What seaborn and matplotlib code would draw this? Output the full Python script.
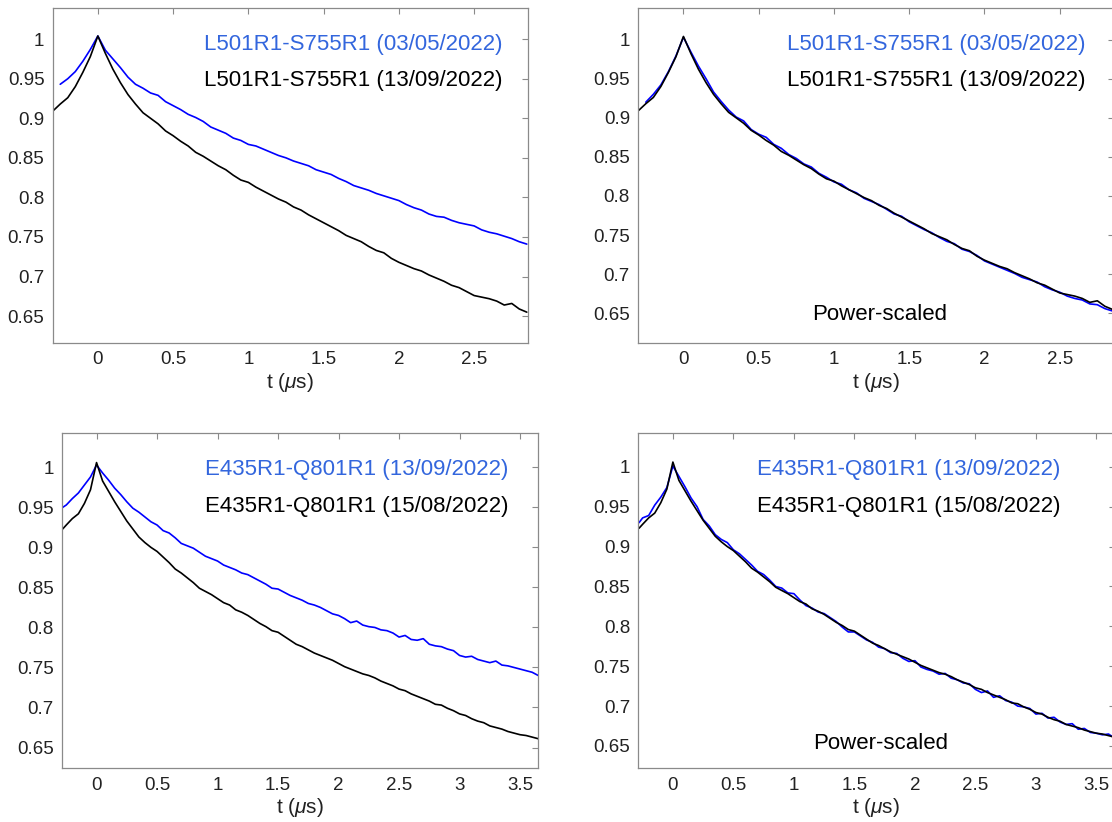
import numpy as np
import matplotlib
matplotlib.use("Agg")
import matplotlib.pyplot as plt
from matplotlib.ticker import FuncFormatter
import seaborn as sns

nan = np.nan

# time grids (us)
t_top = [-0.30, -0.25, -0.20, -0.15, -0.10, -0.05, 0.00, 0.05, 0.10, 0.15, 0.20, 0.25, 0.30, 0.35, 0.40, 0.45,
         0.50, 0.55, 0.60, 0.65, 0.70, 0.75, 0.80, 0.85, 0.90, 0.95, 1.00, 1.05, 1.10, 1.15, 1.20, 1.25,
         1.30, 1.35, 1.40, 1.45, 1.50, 1.55, 1.60, 1.65, 1.70, 1.75, 1.80, 1.85, 1.90, 1.95, 2.00, 2.05,
         2.10, 2.15, 2.20, 2.25, 2.30, 2.35, 2.40, 2.45, 2.50, 2.55, 2.60, 2.65, 2.70, 2.75, 2.80, 2.85]

t_bot = [-0.28, -0.25, -0.20, -0.15, -0.10, -0.05, 0.00, 0.05, 0.10, 0.15, 0.20, 0.25, 0.30, 0.35, 0.40, 0.45,
         0.50, 0.55, 0.60, 0.65, 0.70, 0.75, 0.80, 0.85, 0.90, 0.95, 1.00, 1.05, 1.10, 1.15, 1.20, 1.25,
         1.30, 1.35, 1.40, 1.45, 1.50, 1.55, 1.60, 1.65, 1.70, 1.75, 1.80, 1.85, 1.90, 1.95, 2.00, 2.05,
         2.10, 2.15, 2.20, 2.25, 2.30, 2.35, 2.40, 2.45, 2.50, 2.55, 2.60, 2.65, 2.70, 2.75, 2.80, 2.85,
         2.90, 2.95, 3.00, 3.05, 3.10, 3.15, 3.20, 3.25, 3.30, 3.35, 3.40, 3.45, 3.50, 3.55, 3.60, 3.65]

# L501R1-S755R1 (03/05/2022), raw
l501_0305 = [nan, 0.943, 0.950, 0.959, 0.972, 0.987, 1.004, 0.986, 0.975, 0.964, 0.952, 0.943, 0.938, 0.932, 0.929, 0.921,
             0.916, 0.911, 0.905, 0.901, 0.896, 0.889, 0.885, 0.881, 0.875, 0.872, 0.867, 0.865, 0.861, 0.857, 0.853, 0.850,
             0.846, 0.843, 0.840, 0.835, 0.832, 0.829, 0.824, 0.820, 0.815, 0.812, 0.809, 0.805, 0.802, 0.799, 0.796, 0.791,
             0.787, 0.784, 0.779, 0.776, 0.775, 0.771, 0.768, 0.766, 0.764, 0.759, 0.756, 0.754, 0.751, 0.748, 0.744, 0.741]

# L501R1-S755R1 (13/09/2022)
l501_1309 = [0.909, 0.918, 0.926, 0.940, 0.958, 0.978, 1.004, 0.982, 0.962, 0.945, 0.930, 0.918, 0.907, 0.900, 0.893, 0.884,
             0.878, 0.871, 0.865, 0.857, 0.852, 0.846, 0.840, 0.835, 0.828, 0.822, 0.819, 0.813, 0.808, 0.803, 0.798, 0.794,
             0.788, 0.784, 0.778, 0.773, 0.768, 0.763, 0.758, 0.752, 0.748, 0.744, 0.738, 0.733, 0.730, 0.723, 0.718, 0.714,
             0.710, 0.707, 0.702, 0.698, 0.694, 0.689, 0.686, 0.681, 0.676, 0.674, 0.672, 0.669, 0.664, 0.666, 0.659, 0.655]

# L501R1-S755R1 (03/05/2022), power-scaled
l501_0305_ps = [nan, 0.920, 0.930, 0.942, 0.959, 0.979, 1.003, 0.984, 0.966, 0.950, 0.933, 0.921, 0.910, 0.901, 0.896, 0.885,
                0.879, 0.875, 0.866, 0.861, 0.853, 0.848, 0.841, 0.837, 0.829, 0.824, 0.818, 0.815, 0.808, 0.804, 0.797, 0.793,
                0.789, 0.783, 0.777, 0.774, 0.767, 0.762, 0.757, 0.753, 0.747, 0.742, 0.739, 0.732, 0.729, 0.724, 0.717, 0.713,
                0.709, 0.705, 0.701, 0.696, 0.693, 0.690, 0.684, 0.680, 0.677, 0.672, 0.669, 0.667, 0.662, 0.661, 0.656, 0.653]

# E435R1-Q801R1 (13/09/2022), raw
e435_1309 = [0.950, 0.953, 0.961, 0.968, 0.978, 0.988, 1.003, 0.993, 0.984, 0.974, 0.966, 0.957, 0.949, 0.944, 0.938, 0.932,
             0.928, 0.921, 0.918, 0.912, 0.905, 0.902, 0.899, 0.894, 0.889, 0.886, 0.883, 0.878, 0.875, 0.872, 0.868, 0.866,
             0.862, 0.858, 0.854, 0.849, 0.848, 0.844, 0.840, 0.837, 0.834, 0.830, 0.828, 0.825, 0.821, 0.817, 0.815, 0.811,
             0.806, 0.808, 0.803, 0.801, 0.800, 0.797, 0.796, 0.793, 0.788, 0.790, 0.785, 0.784, 0.786, 0.779, 0.777, 0.776,
             0.773, 0.771, 0.765, 0.763, 0.764, 0.760, 0.758, 0.756, 0.758, 0.753, 0.752, 0.750, 0.748, 0.746, 0.744, 0.740]

# E435R1-Q801R1 (15/08/2022)
e435_1508 = [0.923, 0.928, 0.936, 0.942, 0.955, 0.972, 1.006, 0.983, 0.970, 0.957, 0.945, 0.933, 0.923, 0.913, 0.906, 0.900,
             0.895, 0.888, 0.881, 0.873, 0.868, 0.862, 0.856, 0.849, 0.845, 0.841, 0.836, 0.831, 0.828, 0.822, 0.819, 0.815,
             0.810, 0.805, 0.801, 0.796, 0.794, 0.789, 0.784, 0.779, 0.776, 0.772, 0.768, 0.765, 0.762, 0.759, 0.755, 0.751,
             0.748, 0.745, 0.742, 0.740, 0.737, 0.733, 0.730, 0.727, 0.723, 0.721, 0.717, 0.714, 0.711, 0.708, 0.704, 0.703,
             0.699, 0.696, 0.692, 0.690, 0.686, 0.683, 0.681, 0.677, 0.675, 0.673, 0.670, 0.668, 0.666, 0.665, 0.663, 0.661]

# E435R1-Q801R1 (13/09/2022), power-scaled
e435_1309_ps = [0.930, 0.936, 0.939, 0.952, 0.962, 0.974, 1.001, 0.988, 0.975, 0.961, 0.950, 0.934, 0.926, 0.915, 0.909, 0.905,
                0.896, 0.891, 0.884, 0.877, 0.869, 0.865, 0.858, 0.850, 0.848, 0.842, 0.841, 0.833, 0.826, 0.823, 0.818, 0.816,
                0.811, 0.806, 0.799, 0.793, 0.793, 0.788, 0.783, 0.780, 0.774, 0.772, 0.767, 0.766, 0.760, 0.756, 0.757, 0.749,
                0.746, 0.744, 0.740, 0.741, 0.735, 0.733, 0.729, 0.728, 0.721, 0.717, 0.719, 0.711, 0.713, 0.707, 0.705, 0.700,
                0.699, 0.697, 0.690, 0.691, 0.685, 0.686, 0.680, 0.677, 0.678, 0.671, 0.672, 0.667, 0.666, 0.664, 0.665, 0.660]

labels_top = ["L501R1-S755R1 (03/05/2022)", "L501R1-S755R1 (13/09/2022)"]
labels_bot = ["E435R1-Q801R1 (13/09/2022)", "E435R1-Q801R1 (15/08/2022)"]

sns.set_style("white")
plt.rcParams["font.family"] = ["Liberation Sans", "DejaVu Sans"]
plt.rcParams["mathtext.fontset"] = "custom"
plt.rcParams["mathtext.rm"] = "Liberation Sans"
plt.rcParams["mathtext.it"] = "Liberation Sans:italic"

line_blue = "#0000ff"
text_blue = "#3366dd"
axis_gray = "#8a8a8a"

fig = plt.figure(figsize=(11.12, 8.22), dpi=100)

panels = [
    dict(rect=[0.0474, 0.5827, 0.4277, 0.4072], t=t_top, blue=l501_0305, black=l501_1309, labels=labels_top,
         xlim=(-0.30, 2.86), ylim=(0.616, 1.039), xt=[0, 0.5, 1, 1.5, 2, 2.5], lx=0.318, ps=None),
    dict(rect=[0.5740, 0.5827, 0.4277, 0.4072], t=t_top, blue=l501_0305_ps, black=l501_1309, labels=labels_top,
         xlim=(-0.30, 2.86), ylim=(0.612, 1.040), xt=[0, 0.5, 1, 1.5, 2, 2.5], lx=0.3125, ps=0.084),
    dict(rect=[0.0558, 0.0653, 0.4282, 0.4075], t=t_bot, blue=e435_1309, black=e435_1508, labels=labels_bot,
         xlim=(-0.285, 3.65), ylim=(0.624, 1.0425), xt=[0, 0.5, 1, 1.5, 2, 2.5, 3, 3.5], lx=0.300, ps=None),
    dict(rect=[0.5741, 0.0653, 0.4282, 0.4075], t=t_bot, blue=e435_1309_ps, black=e435_1508, labels=labels_bot,
         xlim=(-0.285, 3.65), ylim=(0.622, 1.042), xt=[0, 0.5, 1, 1.5, 2, 2.5, 3, 3.5], lx=0.250, ps=0.075),
]

fmt = FuncFormatter(lambda v, p: "%g" % round(v, 3))

for p in panels:
    ax = fig.add_axes(p["rect"])
    sns.lineplot(x=p["t"], y=p["blue"], color=line_blue, lw=1.2, ax=ax, estimator=None, sort=False)
    sns.lineplot(x=p["t"], y=p["black"], color="black", lw=1.2, ax=ax, estimator=None, sort=False)
    ax.set_xlim(*p["xlim"])
    ax.set_ylim(*p["ylim"])
    ax.set_xticks(p["xt"])
    ax.set_yticks([0.65, 0.7, 0.75, 0.8, 0.85, 0.9, 0.95, 1.0])
    ax.xaxis.set_major_formatter(fmt)
    ax.yaxis.set_major_formatter(fmt)
    ax.tick_params(direction="in", length=4.5, width=0.8, color=axis_gray, top=True, right=True,
                   labelsize=13.5, labelcolor="#222222", pad=6)
    for s in ax.spines.values():
        s.set_color(axis_gray)
        s.set_linewidth(0.9)
    ax.set_xlabel(r"t ($\mu$s)", fontsize=15, color="#222222", labelpad=2)
    ax.set_ylabel("")
    ax.text(p["lx"], 0.891, p["labels"][0], transform=ax.transAxes, color=text_blue,
            fontsize=16, ha="left", va="center")
    ax.text(p["lx"], 0.783, p["labels"][1], transform=ax.transAxes, color="black",
            fontsize=16, ha="left", va="center")
    if p["ps"] is not None:
        ax.text(0.508, p["ps"], "Power-scaled", transform=ax.transAxes, color="black",
                fontsize=16, ha="center", va="center")

fig.savefig("out.png", dpi=100)
